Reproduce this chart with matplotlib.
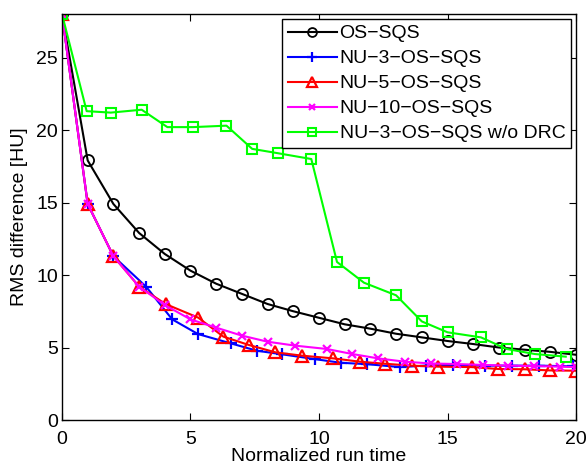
import matplotlib
matplotlib.use("Agg")
import matplotlib.pyplot as plt

plt.rcParams['font.family'] = ['Liberation Sans', 'DejaVu Sans']

labels = ["OS\u2212SQS", "NU\u22123\u2212OS\u2212SQS", "NU\u22125\u2212OS\u2212SQS",
          "NU\u221210\u2212OS\u2212SQS", "NU\u22123\u2212OS\u2212SQS w/o DRC"]

os_x = [0, 1, 2, 3, 4, 5, 6, 7, 8, 9, 10, 11, 12, 13, 14, 15, 16, 17, 18, 19, 20]
os_y = [28, 17.9, 14.9, 12.9, 11.45, 10.3, 9.4, 8.7, 8.0, 7.5, 7.05, 6.6, 6.3, 5.95,
        5.7, 5.45, 5.24, 5.0, 4.85, 4.7, 4.5]

nu3_x = [0, 1, 2, 3.27, 4.29, 5.29, 6.56, 7.58, 8.57, 9.84, 10.84, 11.88, 13.15,
         14.15, 15.2, 16.45, 17.5, 18.57, 19.9]
nu3_y = [28, 14.9, 11.3, 9.2, 6.94, 5.93, 5.29, 4.78, 4.53, 4.2, 3.95, 3.85, 3.65,
         3.75, 3.8, 3.75, 3.75, 3.75, 3.7]

nu5_x = [0, 1, 2, 3, 4.03, 5.3, 6.28, 7.28, 8.3, 9.33, 10.56, 11.6, 12.57, 13.6,
         14.64, 15.94, 16.98, 18.0, 19.0, 20]
nu5_y = [28, 14.9, 11.3, 9.2, 8.0, 7.06, 5.75, 5.17, 4.67, 4.44, 4.25, 4.02, 3.88,
         3.75, 3.68, 3.65, 3.52, 3.5, 3.42, 3.4]

nu10_x = [0, 1, 2, 3, 4, 5, 6, 7, 8, 9.07, 10.3, 11.3, 12.3, 13.35, 14.35, 15.36,
          16.37, 17.37, 18.38, 19.38, 20]
nu10_y = [28, 14.9, 11.3, 9.2, 7.93, 6.94, 6.37, 5.82, 5.4, 5.13, 4.9, 4.55, 4.25,
          4.02, 3.9, 3.86, 3.8, 3.75, 3.72, 3.68, 3.65]

nodrc_x = [0, 0.96, 1.9, 3.1, 4.1, 5.1, 6.4, 7.4, 8.4, 9.7, 10.7, 11.75, 13.0, 14.0,
           15.0, 16.3, 17.3, 18.4, 19.6]
nodrc_y = [28, 21.3, 21.2, 21.4, 20.2, 20.2, 20.3, 18.7, 18.4, 18.0, 10.9, 9.47, 8.6,
           6.8, 6.05, 5.7, 4.9, 4.55, 4.37]

fig = plt.figure(figsize=(5.87, 4.67), dpi=100)
ax = fig.add_axes([0.1056, 0.1006, 0.8757, 0.8694])

lw = 1.5
ax.plot(os_x, os_y, color='black', marker='o', mfc='none', ms=8, mew=1.3, lw=lw, label=labels[0])
ax.plot(nu3_x, nu3_y, color='blue', marker='+', ms=9, mew=1.6, lw=lw, label=labels[1])
ax.plot(nu5_x, nu5_y, color='red', marker='^', mfc='none', ms=9, mew=1.6, lw=lw, label=labels[2])
ax.plot(nu10_x, nu10_y, color='magenta', marker='x', ms=6, mew=1.6, lw=lw, label=labels[3])
ax.plot(nodrc_x, nodrc_y, color='lime', marker='s', mfc='none', ms=7, mew=1.5, lw=lw, label=labels[4])

ax.set_xlim(0, 20)
ax.set_ylim(0, 28)
ax.set_xticks([0, 5, 10, 15, 20])
ax.set_yticks([0, 5, 10, 15, 20, 25])
ax.tick_params(direction='in', top=True, right=True, labelsize=14, length=5, width=0.8)
ax.tick_params(axis='x', pad=8)
ax.tick_params(axis='y', pad=3)
for s in ax.spines.values():
    s.set_linewidth(1.0)
ax.set_xlabel("Normalized run time", fontsize=14, labelpad=0)
ax.set_ylabel("RMS difference [HU]", fontsize=14, labelpad=6)

leg = ax.legend(loc='upper right', fontsize=14, frameon=True, fancybox=False,
                edgecolor='black', framealpha=1, handlelength=2.5, handletextpad=0.15,
                borderpad=0.3, labelspacing=0.38, borderaxespad=0.25,
                markerscale=0.8)
leg.get_frame().set_linewidth(1.0)

fig.savefig("out.png", dpi=100)
